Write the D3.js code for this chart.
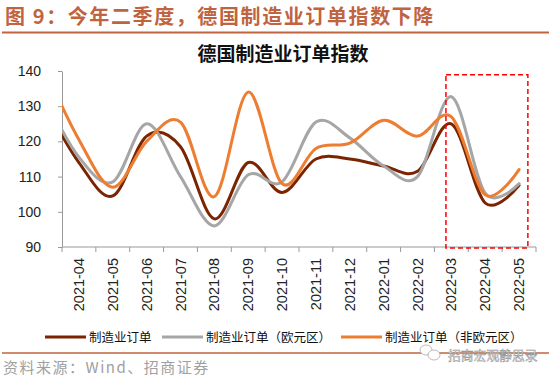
<!DOCTYPE html>
<html>
<head>
<meta charset="utf-8">
<script src="https://cdn.jsdelivr.net/npm/d3@7"></script>
<style>
  html, body { margin: 0; padding: 0; background: #fff; }
  svg { display: block; }
</style>
</head>
<body>
<svg id="chart" width="556" height="378"></svg>
<script>
// ---- data ----
// first month (2021-03) lies before the visible axis; only its segment edge shows at the left
const months = ["2021-03","2021-04","2021-05","2021-06","2021-07","2021-08","2021-09","2021-10","2021-11","2021-12","2022-01","2022-02","2022-03","2022-04","2022-05"];
const tickLabels = months.slice(1);
const ordersTotal = [130.5,114,104.5,121.5,118.5,98,114,105.5,115,115,113,111.5,125,102.5,107.5];
const ordersEuro  = [132.5,115.5,108.5,125,110,96,110.5,108.5,125.5,121,113,110,132.7,105.3,108];
const ordersNonEuro = [140.5,120.5,107,120,125.5,104.3,134,108,118,119.5,126,121.5,127,104.8,112];
const seriesNames = ["制造业订单","制造业订单（欧元区）","制造业订单（非欧元区）"];
const seriesColors = ["#7B2402","#A6A6A6","#ED7D31"];
const yTicks = [90,100,110,120,130,140];
const highlight = {from: "2022-03", to: "2022-05", top: 138.9, bottom: 89.7};

const svg = d3.select("#chart");
const accent = "#C0643F";

// ---- header ----
svg.append("text")
  .attr("x", 5).attr("y", 24)
  .attr("font-family", "'Noto Sans CJK SC', sans-serif")
  .attr("font-size", 20).attr("font-weight", 700)
  .attr("letter-spacing", 1.6)
  .attr("fill", accent)
  .text("图 9：今年二季度，德国制造业订单指数下降");
svg.append("line").attr("x1", 2).attr("x2", 549).attr("y1", 32.5).attr("y2", 32.5)
  .attr("stroke", accent).attr("stroke-width", 2);

svg.append("text")
  .attr("x", 283).attr("y", 61)
  .attr("text-anchor", "middle")
  .attr("font-family", "'Noto Sans CJK SC', sans-serif")
  .attr("font-size", 19).attr("font-weight", 700)
  .attr("fill", "#111")
  .text("德国制造业订单指数");

// ---- scales ----
const pL = 62, pR = 536, pT = 71, pB = 247;
const x = d3.scaleLinear().domain([0.5, months.length - 0.5]).range([pL, pR]);
const y = d3.scaleLinear().domain([90, 140]).range([pB, pT]);
const idx = m => months.indexOf(m);

// ---- axes ----
const yAxis = svg.append("g").attr("transform", `translate(${pL},0)`)
  .call(d3.axisLeft(y).tickValues(yTicks).tickSize(4).tickPadding(17).tickSizeOuter(0));
yAxis.select(".domain").attr("stroke", "#999");
yAxis.selectAll(".tick line").attr("stroke", "#999");
yAxis.selectAll(".tick text")
  .attr("font-family", "'Liberation Sans', Arial, sans-serif")
  .attr("font-size", 14).attr("fill", "#222");

const bounds = d3.range(0.5, months.length, 1);
const xg = svg.append("g");
xg.append("line").attr("x1", pL).attr("x2", pR).attr("y1", pB).attr("y2", pB)
  .attr("stroke", "#999");
xg.selectAll("line.tk").data(bounds).join("line").attr("class", "tk")
  .attr("x1", d => x(d)).attr("x2", d => x(d))
  .attr("y1", pB).attr("y2", pB + 5).attr("stroke", "#999");
xg.selectAll("text").data(tickLabels).join("text")
  .attr("transform", d => `translate(${x(idx(d)) + 5},${pB + 11}) rotate(-90)`)
  .attr("text-anchor", "end")
  .attr("font-family", "'Liberation Sans', Arial, sans-serif")
  .attr("font-size", 14.5).attr("fill", "#222")
  .text(d => d);

// ---- lines ----
svg.append("clipPath").attr("id", "plotclip")
  .append("rect").attr("x", pL).attr("y", 0).attr("width", pR - pL).attr("height", pB);

const allSeries = [ordersTotal, ordersEuro, ordersNonEuro];
const line = d3.line()
  .x((d, i) => x(i))
  .y(d => y(d))
  .curve(d3.curveCardinal.tension(0));
svg.append("g").attr("clip-path", "url(#plotclip)")
  .selectAll("path").data(allSeries).join("path")
  .attr("d", line)
  .attr("fill", "none")
  .attr("stroke", (d, i) => seriesColors[i])
  .attr("stroke-width", 3)
  .attr("stroke-linejoin", "round")
  .attr("stroke-linecap", "round");

// ---- highlight box ----
svg.append("rect")
  .attr("x", x(idx(highlight.from) - 0.16))
  .attr("y", y(highlight.top))
  .attr("width", x(idx(highlight.to) + 0.26) - x(idx(highlight.from) - 0.16))
  .attr("height", y(highlight.bottom) - y(highlight.top))
  .attr("fill", "none").attr("stroke", "#FF0000")
  .attr("stroke-width", 1.5).attr("stroke-dasharray", "5,3");

// ---- legend ----
const legendX = [45, 162, 341];
const lg = svg.append("g").selectAll("g").data(seriesNames).join("g")
  .attr("transform", (d, i) => `translate(${legendX[i]},337)`);
lg.append("line").attr("x1", 0).attr("x2", 41).attr("y1", 0).attr("y2", 0)
  .attr("stroke", (d, i) => seriesColors[i]).attr("stroke-width", 3);
lg.append("text").attr("x", 44).attr("y", 4.5)
  .attr("font-family", "'Noto Sans CJK SC', sans-serif")
  .attr("font-size", 12.5).attr("fill", "#111")
  .text(d => d);

// ---- footer ----
svg.append("line").attr("x1", 2).attr("x2", 549).attr("y1", 353).attr("y2", 353)
  .attr("stroke", accent).attr("stroke-width", 1.5);
svg.append("text")
  .attr("x", 3).attr("y", 373)
  .attr("font-family", "'Noto Sans CJK SC', sans-serif")
  .attr("font-size", 15).attr("letter-spacing", 1.5)
  .attr("fill", "#A0A0A0")
  .text("资料来源：Wind、招商证券");

// watermark
const wm = svg.append("g");
wm.append("ellipse").attr("cx", 426).attr("cy", 350).attr("rx", 6).attr("ry", 5)
  .attr("fill", "#fff").attr("stroke", "#aaa").attr("stroke-width", 0.8);
wm.append("ellipse").attr("cx", 434).attr("cy", 355).attr("rx", 6).attr("ry", 5)
  .attr("fill", "#fff").attr("stroke", "#aaa").attr("stroke-width", 0.8);
wm.append("text").attr("x", 448).attr("y", 359.5)
  .attr("font-family", "'Noto Sans CJK SC', sans-serif")
  .attr("font-size", 12.8).attr("fill", "#f2f2f2")
  .attr("stroke", "#8a8a8a").attr("stroke-width", 0.45)
  .text("招商宏观静思录");
</script>
</body>
</html>
